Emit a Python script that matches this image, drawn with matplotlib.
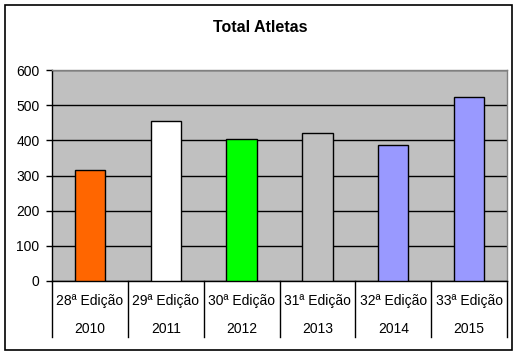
import matplotlib
matplotlib.use("Agg")
import matplotlib.pyplot as plt
from matplotlib.patches import Rectangle
from matplotlib.lines import Line2D

plt.rcParams['font.family'] = ['Liberation Sans', 'DejaVu Sans']

editions = ["28ª Edição", "29ª Edição", "30ª Edição", "31ª Edição", "32ª Edição", "33ª Edição"]
years = ["2010", "2011", "2012", "2013", "2014", "2015"]
values = [316, 454, 403, 421, 386, 522]
colors = ["#FF6600", "#FFFFFF", "#00FF00", "#C0C0C0", "#9999FF", "#9999FF"]
yticks = [0, 100, 200, 300, 400, 500, 600]

W, H = 524, 357
fig = plt.figure(figsize=(W / 100, H / 100), dpi=100)
fig.patch.set_facecolor("white")

# outer border
fig.patches.append(Rectangle((5 / W, 1 - 350 / H), 507 / W, 345 / H, transform=fig.transFigure,
                             fill=False, edgecolor="black", linewidth=1.2))

ax = fig.add_axes([52 / W, 1 - 281 / H, 455 / W, 211 / H])
ax.set_facecolor("#C0C0C0")
x = list(range(len(values)))
ax.bar(x, values, width=0.4, color=colors, edgecolor="black", linewidth=1.0, zorder=3)
ax.set_xlim(-0.5, len(values) - 0.5)
ax.set_ylim(0, 600)
ax.set_yticks(yticks)
ax.set_yticklabels([str(v) for v in yticks], fontsize=10)
ax.yaxis.grid(True, color="black", linewidth=1.0)
ax.set_axisbelow(True)
ax.tick_params(axis="y", direction="out", length=4, width=1, pad=5)
ax.set_xticks([])
for s in ["top", "right"]:
    ax.spines[s].set_color("#808080")
    ax.spines[s].set_linewidth(1.0)
for s in ["left", "bottom"]:
    ax.spines[s].set_color("black")
    ax.spines[s].set_linewidth(1.0)

# category axis separators and labels
depth = (337 - 281) / 211
for b in range(len(values) + 1):
    ax.add_line(Line2D([b - 0.5, b - 0.5], [0, -depth], color="black", linewidth=1.0,
                       transform=ax.get_xaxis_transform(), clip_on=False))
for i in x:
    ax.text(i, -(301.5 - 281) / 211, editions[i], ha="center", va="center", fontsize=10,
            transform=ax.get_xaxis_transform())
    ax.text(i, -(329 - 281) / 211, years[i], ha="center", va="center", fontsize=10,
            transform=ax.get_xaxis_transform())

fig.text(0.496, 1 - 27 / H, "Total Atletas", ha="center", va="center", fontsize=11.5, fontweight="bold")

fig.savefig("out.png", dpi=100)
